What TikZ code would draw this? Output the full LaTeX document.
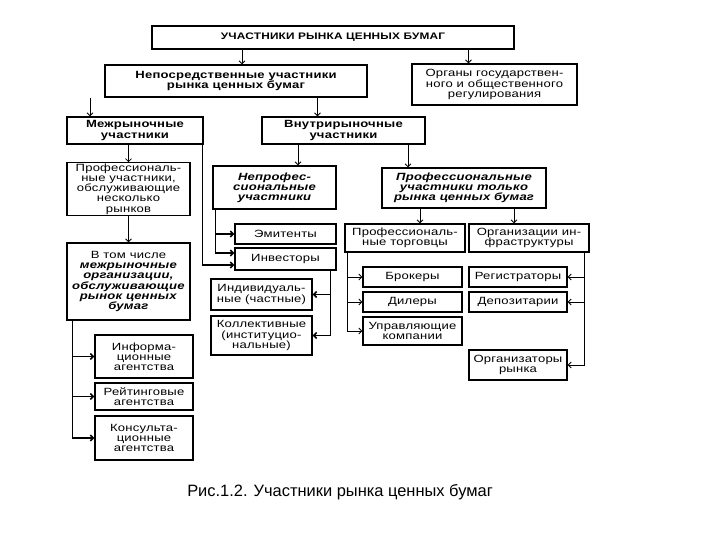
\documentclass[tikz,border=0pt]{standalone}
\usepackage{fontspec}
\setmainfont{Liberation Sans}
\newfontfamily\boxfont[FakeStretch=1.25,LetterSpace=2]{Liberation Sans}
\usetikzlibrary{arrows.meta,positioning}

\begin{document}
\begin{tikzpicture}[x=1bp, y=-1bp,
    box/.style={draw, line width=1.3bp, align=center, inner sep=1bp, font=\fontsize{10.5}{10.2}\boxfont},
    head/.style={box, font=\fontsize{10.5}{10.2}\boxfont\bfseries},
    headit/.style={box, font=\fontsize{10.5}{10.2}\boxfont\bfseries\itshape},
    arr/.style={draw, line width=0.8bp, -{Straight Barb[length=3bp,width=6bp]}},
    caption/.style={font=\fontsize{16.5}{18}\selectfont}
]
\useasboundingbox (0,0) rectangle (720,540);

\node[head, minimum width=362bp, minimum height=23bp, font=\fontsize{9.5}{10}\boxfont\bfseries] (title) at (333,37.5) {УЧАСТНИКИ РЫНКА ЦЕННЫХ БУМАГ};
\node[head, minimum width=262bp, minimum height=32bp] (nep) at (236,81) {Непосредственные участники\\рынка ценных бумаг};
\node[box, minimum width=165bp, minimum height=41bp] (org) at (494.5,84.5) {Органы государствен-\\ного и общественного\\регулирования};

\node[head, minimum width=136bp, minimum height=27bp] (mez) at (135,130.5) {Межрыночные\\участники};
\node[head, minimum width=163bp, minimum height=27bp] (vnu) at (343.5,130.5) {Внутрирыночные\\участники};

\node[box, minimum width=123bp, minimum height=52bp] (profL) at (128.5,189) {Профессиональ-\\ные участники,\\обслуживающие\\несколько\\рынков};
\node[box, minimum width=123bp, minimum height=77bp] (incl) at (128.5,281.5) {В том числе\\\textbf{\textit{межрыночные}}\\\textbf{\textit{организации,}}\\\textbf{\textit{обслуживающие}}\\\textbf{\textit{рынок ценных}}\\\textbf{\textit{бумаг}}};
\node[box, minimum width=98bp, minimum height=43bp] (inf) at (144,356.5) {Информа-\\ционные\\агентства};
\node[box, minimum width=98bp, minimum height=27bp] (rat) at (144,396.5) {Рейтинговые\\агентства};
\node[box, minimum width=98bp, minimum height=44bp] (con) at (144,438) {Консульта-\\ционные\\агентства};

\node[headit, minimum width=123bp, minimum height=43bp] (nprof) at (274.5,187.5) {Непрофес-\\сиональные\\участники};
\node[box, minimum width=101bp, minimum height=20bp] (emi) at (285.5,234) {Эмитенты};
\node[box, minimum width=101bp, minimum height=22bp] (inv) at (285.5,259) {Инвесторы};
\node[box, minimum width=101bp, minimum height=31bp] (ind) at (261.5,294.5) {Индивидуаль-\\ные (частные)};
\node[box, minimum width=101bp, minimum height=39bp] (col) at (261.5,335.5) {Коллективные\\(институцио-\\нальные)};

\node[headit, minimum width=164bp, minimum height=40bp] (profR) at (464,188) {Профессиональные\\участники только\\рынка ценных бумаг};
\node[box, minimum width=120bp, minimum height=28bp] (torg) at (405,238) {Профессиональ-\\ные торговцы};
\node[box, minimum width=120bp, minimum height=28bp] (infr) at (529,238) {Организации ин-\\фраструктуры};
\node[box, minimum width=99bp, minimum height=20bp] (brok) at (412.5,277) {Брокеры};
\node[box, minimum width=99bp, minimum height=20bp] (dil) at (412.5,302) {Дилеры};
\node[box, minimum width=99bp, minimum height=28bp] (upr) at (412.5,331) {Управляющие\\компании};
\node[box, minimum width=98bp, minimum height=20bp] (reg) at (518,277) {Регистраторы};
\node[box, minimum width=98bp, minimum height=20bp] (dep) at (518,302) {Депозитарии};
\node[box, minimum width=98bp, minimum height=30bp] (orgm) at (518,365) {Организаторы\\рынка};

\node[caption] (cap) at (340,492) {Рис.1.2. Участники рынка ценных бумаг};

\draw[arr] ([xshift=6bp]nep.north |- title.south) -- ([xshift=6bp]nep.north);
\draw[arr] ([xshift=-26bp]org.north |- title.south) -- ([xshift=-26bp]org.north);
\draw[arr] ([xshift=-45bp]mez.north |- nep.south) -- ([xshift=-45bp]mez.north);
\draw[arr] ([xshift=-26bp]vnu.north |- nep.south) -- ([xshift=-26bp]vnu.north);

\draw[arr] (profL.north |- mez.south) -- (profL.north);
\draw[arr] (profL.south) -- (incl.north);
\draw[arr, line width=1.5bp] ([xshift=-1bp]mez.south east) |- ([yshift=-6bp]inv.west);
\draw[arr, line width=1.5bp] ([xshift=6bp]incl.south west) |- (inf.west);
\draw[arr, line width=1.5bp] ([xshift=6bp]incl.south west) |- (rat.west);
\draw[arr, line width=1.5bp] ([xshift=6bp]incl.south west) |- (con.west);

\draw[arr] ([xshift=23.5bp]nprof.north |- vnu.south) -- ([xshift=23.5bp]nprof.north);
\draw[arr, line width=1.5bp] ([xshift=3bp]nprof.south west) |- (emi.west);
\draw[arr, line width=1.5bp] ([xshift=3bp]nprof.south west) |- ([yshift=6bp]inv.west);
\draw[arr, line width=1.5bp] ([xshift=-6bp]inv.south east) |- (ind.east);
\draw[arr, line width=1.5bp] ([xshift=-6bp]inv.south east) |- (col.east);

\draw[arr] ([xshift=-56bp]profR.north |- vnu.south) -- ([xshift=-56bp]profR.north);
\draw[arr] ([xshift=15bp]torg.north |- profR.south) -- ([xshift=15bp]torg.north);
\draw[arr] ([xshift=-15bp]infr.north |- profR.south) -- ([xshift=-15bp]infr.north);
\draw[arr] ([xshift=3bp]torg.south west) |- (brok.west);
\draw[arr] ([xshift=3bp]torg.south west) |- (dil.west);
\draw[arr] ([xshift=3bp]torg.south west) |- (upr.west);
\draw[arr] ([xshift=-5bp]infr.south east) |- (reg.east);
\draw[arr] ([xshift=-5bp]infr.south east) |- (dep.east);
\draw[arr] ([xshift=-5bp]infr.south east) |- (orgm.east);
\end{tikzpicture}
\end{document}
